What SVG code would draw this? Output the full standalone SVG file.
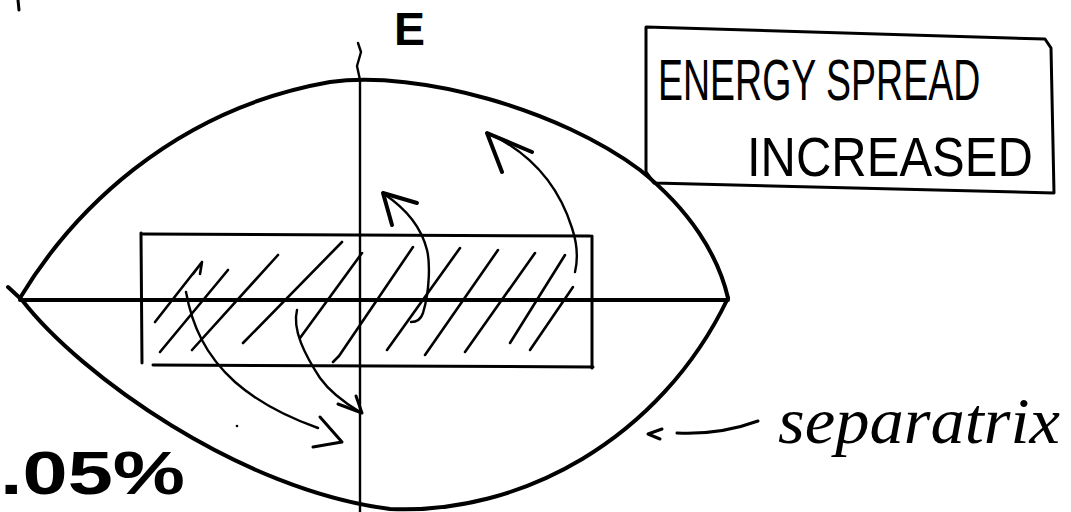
<svg xmlns="http://www.w3.org/2000/svg" width="1071" height="512" viewBox="0 0 1071 512">
<style>
.ink{fill:none;stroke:#000;stroke-linecap:round;stroke-linejoin:round}
.thick{stroke-width:4}
.med{stroke-width:3}
.thin{stroke-width:2.4}
.hatch{stroke-width:2.6}
.hand{font-family:"Liberation Sans",Arial,sans-serif;fill:#000}
.script{font-family:"Liberation Serif","Times New Roman",serif;font-style:italic;fill:#000}
</style>
<rect x="0" y="0" width="1071" height="512" fill="#fff"/>

<path class="ink med" d="M18,0 L19,10"/>

<g id="axes">
  <path class="ink thin" d="M358,43 L361,52 L357,66 L360,80 L360,512"/>
  <path class="ink thick" d="M20,300 L728,300"/>
</g>

<g id="label-E">
  <text class="hand" x="394" y="45" font-size="47" font-weight="bold" textLength="31" lengthAdjust="spacingAndGlyphs">E</text>
</g>

<g id="separatrix">
  <path class="ink thick" d="M20,298 C70,215 170,110 330,82 C420,70 560,110 640,170 C690,210 718,255 728,298"/>
  <path class="ink thick" d="M8,287 L22,300 C80,375 240,490 390,509 C520,515 660,440 728,298"/>
</g>

<g id="bunch">
  <path class="ink med" d="M143,234 L590,236"/>
  <path class="ink med" d="M141,233 L142,363"/>
  <path class="ink med" d="M153,365 L593,367"/>
  <path class="ink med" d="M592,236 L592,368"/>
  <g>
    <path class="ink hatch" d="M155,322 L202,262 M193,274 L202,262 L200,274"/>
    <path class="ink hatch" d="M160,352 L228,270"/>
    <path class="ink hatch" d="M192,350 L278,255"/>
    <path class="ink hatch" d="M243,343 L342,242"/>
    <path class="ink hatch" d="M300,338 L362,253"/>
    <path class="ink hatch" d="M333,362 L339,356 L413,247"/>
    <path class="ink hatch" d="M387,350 L460,248"/>
    <path class="ink hatch" d="M425,355 L498,250"/>
    <path class="ink hatch" d="M465,352 L535,253"/>
    <path class="ink hatch" d="M510,343 L565,255"/>
    <path class="ink hatch" d="M530,350 L573,287"/>
  </g>
</g>

<g id="connectors">
  <path class="ink thin" d="M186,292 C192,325 205,355 235,382 C260,404 290,418 318,428"/>
  <path class="ink med" d="M320,417 L342,442 L313,447"/>
  <path class="ink thin" d="M297,310 C292,330 305,355 320,378 C330,392 345,403 360,412"/>
  <path class="ink med" d="M338,404 L362,413 L356,396"/>
  <path class="ink thin" d="M411,322 Q420,322 423,313 C430,290 430,262 427,250 C422,230 408,210 384,194"/>
  <path class="ink thick" d="M392,225 L383,193 L417,203"/>
  <path class="ink thin" d="M575,272 C579,255 576,240 572,228 C560,190 535,155 488,133"/>
  <path class="ink thick" d="M502,172 L487,133 L532,152"/>
  <path class="ink med" d="M662,429 L648,434 L660,439"/>
  <path class="ink med" d="M677,433 Q720,435 758,421"/>
</g>

<g id="label-box">
  <path class="ink med" d="M646,27 L1045,39 L1051,48 L1054,193 L654,183 L646,172 Z"/>
  <text class="hand" x="0" y="0" font-size="37.5" transform="translate(658,100) scale(1,1.55)">ENERGY SPREAD</text>
  <text class="hand" x="0" y="0" font-size="49" transform="translate(747,176) scale(1,1.12)">INCREASED</text>
</g>

<g id="label-separatrix">
  <text class="script" x="778" y="443" font-size="66" textLength="282" lengthAdjust="spacingAndGlyphs">separatrix</text>
</g>

<g id="label-percent">
  <text class="hand" x="0" y="494" font-size="62" font-weight="bold" textLength="185" lengthAdjust="spacingAndGlyphs">.05%</text>
</g>

<circle cx="237" cy="426" r="1.3" fill="#000"/>
</svg>
